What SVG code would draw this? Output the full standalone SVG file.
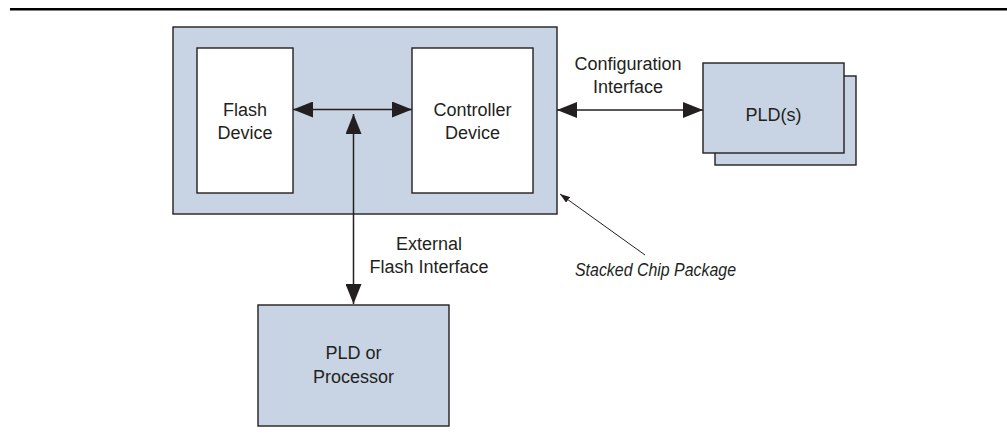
<svg xmlns="http://www.w3.org/2000/svg" width="1007" height="434" viewBox="0 0 1007 434">
<style>
.box{fill:#c8d4e4;stroke:#231f20;stroke-width:1.4}
.wbox{fill:#ffffff;stroke:#231f20;stroke-width:1.4}
.t{font-family:"Liberation Sans",Arial,sans-serif;font-size:18px;fill:#231f20;text-anchor:middle}
.it{font-family:"Liberation Sans",Arial,sans-serif;font-size:18px;font-style:italic;fill:#231f20}
.ln{stroke:#231f20;stroke-width:1.5;fill:none}
.thin{stroke:#231f20;stroke-width:1;fill:none}
</style>
<defs>
<marker id="ah" viewBox="0 0 20 16" refX="20" refY="8" markerWidth="20" markerHeight="16" markerUnits="userSpaceOnUse" orient="auto-start-reverse">
<path d="M0,0 L20,8 L0,16 Z" fill="#231f20"/>
</marker>
<marker id="sah" viewBox="0 0 10 7" refX="10" refY="3.5" markerWidth="10" markerHeight="7" markerUnits="userSpaceOnUse" orient="auto">
<path d="M0,0 L10,3.5 L0,7 Z" fill="#231f20"/>
</marker>
</defs>
<rect x="10" y="8" width="997" height="2.5" fill="#000"/>
<g id="package">
<rect class="box" x="173" y="27" width="384" height="187"/>
</g>
<g id="flash">
<rect class="wbox" x="197" y="48" width="96" height="145"/>
<text class="t" x="245" y="116">Flash</text>
<text class="t" x="245" y="139">Device</text>
</g>
<g id="controller">
<rect class="wbox" x="412" y="48" width="121" height="145"/>
<text class="t" x="472.5" y="116">Controller</text>
<text class="t" x="472.5" y="139">Device</text>
</g>
<g id="plds">
<rect class="box" x="715" y="76" width="141" height="89"/>
<rect class="box" x="703" y="63" width="141" height="90"/>
<text class="t" x="773.5" y="121">PLD(s)</text>
</g>
<g id="processor">
<rect class="box" x="258" y="305" width="191" height="121"/>
<text class="t" x="353.5" y="359">PLD or</text>
<text class="t" x="353.5" y="383">Processor</text>
</g>
<g id="connectors">
<line class="ln" x1="293" y1="109.5" x2="412" y2="109.5" marker-start="url(#ah)" marker-end="url(#ah)"/>
<line class="ln" x1="353.5" y1="114" x2="353.5" y2="304" marker-start="url(#ah)" marker-end="url(#ah)"/>
<line class="ln" x1="557" y1="110" x2="703" y2="110" marker-start="url(#ah)" marker-end="url(#ah)"/>
<line class="thin" x1="645" y1="255" x2="560" y2="194" marker-end="url(#sah)"/>
</g>
<g id="labels">
<text class="t" x="628" y="70">Configuration</text>
<text class="t" x="628" y="93">Interface</text>
<text class="t" x="429" y="250">External</text>
<text class="t" x="429" y="273">Flash Interface</text>
<text class="it" x="575" y="276" textLength="161" lengthAdjust="spacingAndGlyphs">Stacked Chip Package</text>
</g>
</svg>
